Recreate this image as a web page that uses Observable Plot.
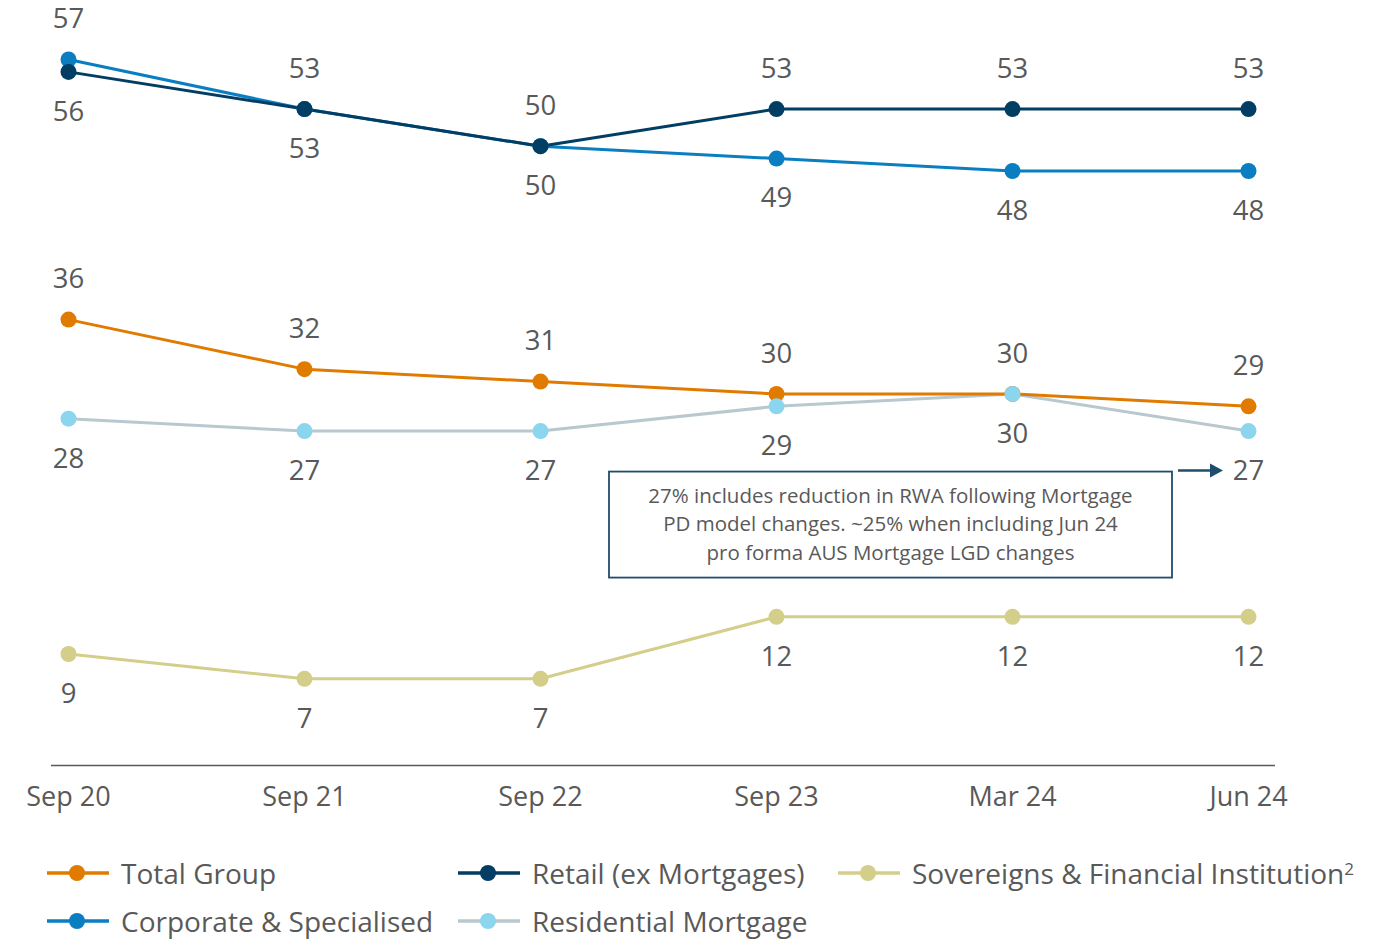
<!DOCTYPE html>
<html><head><meta charset="utf-8">
<script src="https://cdn.jsdelivr.net/npm/d3@7"></script>
<script src="https://cdn.jsdelivr.net/npm/@observablehq/plot@0.6"></script>
<style>
body{margin:0;background:#fff;font-family:"Open Sans",sans-serif;color:#595959;}
#chart svg{display:block;}
.legend{display:grid;grid-template-columns:411px 380px auto;row-gap:10px;padding-left:47px;margin-top:24px;font-size:28px;line-height:38px;}
.item{display:flex;align-items:center;white-space:nowrap;}
.item svg{margin-right:12px;flex:none;}
.item sup{font-size:17px;vertical-align:9px;line-height:0;}
</style></head><body>
<div id="chart"></div>
<div class="legend" id="legend"></div>
<script>
const periods = ["Sep 20","Sep 21","Sep 22","Sep 23","Mar 24","Jun 24"];
const totalGroup = [36,32,31,30,30,29];
const retail = [56,53,50,53,53,53];
const corporate = [57,53,50,49,48,48];
const residential = [28,27,27,29,30,27];
const sovereigns = [9,7,7,12,12,12];
const seriesNames = ["Total Group","Retail (ex Mortgages)","Sovereigns & Financial Institution","Corporate & Specialised","Residential Mortgage"];
const noteLines = ["27% includes reduction in RWA following Mortgage","PD model changes. ~25% when including Jun 24","pro forma AUS Mortgage LGD changes"];

const seriesValues = {
  "Total Group": totalGroup,
  "Retail (ex Mortgages)": retail,
  "Sovereigns & Financial Institution": sovereigns,
  "Corporate & Specialised": corporate,
  "Residential Mortgage": residential
};
const style = {
  "Total Group": {line:"#E07B00", dot:"#E07B00"},
  "Retail (ex Mortgages)": {line:"#023D63", dot:"#023D63"},
  "Sovereigns & Financial Institution": {line:"#D4CE8B", dot:"#D4CE8B"},
  "Corporate & Specialised": {line:"#0A7EC0", dot:"#0A7EC0"},
  "Residential Mortgage": {line:"#B8C8CE", dot:"#8BD5EE"}
};
// label side: true = above
const above = {
  "Total Group": () => true,
  "Retail (ex Mortgages)": (i) => i > 0,
  "Sovereigns & Financial Institution": () => false,
  "Corporate & Specialised": (i) => i === 0,
  "Residential Mortgage": () => false
};

const rows = [];
for (const s of seriesNames) {
  seriesValues[s].forEach((v, i) => rows.push({series: s, period: periods[i], value: v, above: above[s](i)}));
}
const lineOrder = ["Residential Mortgage","Sovereigns & Financial Institution","Total Group","Corporate & Specialised","Retail (ex Mortgages)"];
const dotOrder = ["Sovereigns & Financial Institution","Total Group","Residential Mortgage","Corporate & Specialised","Retail (ex Mortgages)"];

const marks = [
  Plot.ruleY([0], {stroke:"#595959", strokeWidth:1.6, insetLeft:-17, insetRight:-27}),
  Plot.axisX({tickSize:0, tickPadding:21, fontSize:27, anchor:"bottom"})
];
for (const s of lineOrder) {
  marks.push(Plot.line(rows.filter(d => d.series === s), {x:"period", y:"value", stroke: style[s].line, strokeWidth:3}));
}
for (const s of dotOrder) {
  marks.push(Plot.dot(rows.filter(d => d.series === s), {x:"period", y:"value", r:8, fill: style[s].dot, stroke:"none"}));
}
marks.push(Plot.text(rows.filter(d => d.above), {x:"period", y:"value", text:"value", dy:-40, fontSize:27.5, fill:"#595959", lineAnchor:"middle"}));
marks.push(Plot.text(rows.filter(d => !d.above), {x:"period", y:"value", text:"value", dy:40, fontSize:27.5, fill:"#595959", lineAnchor:"middle"}));

const plot = Plot.plot({
  width:1386, height:830,
  marginLeft:68, marginRight:138, marginTop:59, marginBottom:65,
  style:{fontFamily:"'Open Sans', sans-serif", color:"#595959", background:"#fff"},
  x:{type:"point", domain:periods, padding:0, label:null},
  y:{domain:[0,57], axis:null},
  marks
});
document.getElementById("chart").appendChild(plot);

// annotation anchored to the Residential Mortgage Jun 24 label
const sx = plot.scale("x"), sy = plot.scale("y");
const ax = sx.apply("Jun 24"), ay = sy.apply(residential[residential.length-1]) + 40;
const svg = d3.select(plot);
const g = svg.append("g");
g.append("line").attr("x1", ax-70).attr("x2", ax-36).attr("y1", ay).attr("y2", ay)
  .attr("stroke","#1E4D6E").attr("stroke-width",2.5);
g.append("path").attr("d", `M${ax-38},${ay-7}L${ax-25},${ay}L${ax-38},${ay+7}Z`).attr("fill","#1E4D6E");
const bx1 = ax-76, bx0 = bx1-563, by0 = ay+1, bh = 106;
g.append("rect").attr("x", bx0).attr("y", by0).attr("width", bx1-bx0).attr("height", bh)
  .attr("fill","#fff").attr("stroke","#1E4D6E").attr("stroke-width",1.8);
noteLines.forEach((t, i) => {
  g.append("text").attr("x", (bx0+bx1)/2).attr("y", by0 + 24 + i*28.5).attr("dy","0.35em")
    .attr("text-anchor","middle").attr("font-size",20.5).attr("fill","#595959").text(t);
});

// legend
const legendOrder = ["Total Group","Retail (ex Mortgages)","Sovereigns & Financial Institution","Corporate & Specialised","Residential Mortgage"];
const leg = document.getElementById("legend");
for (const s of legendOrder) {
  const div = document.createElement("div");
  div.className = "item";
  div.innerHTML = `<svg width="62" height="20"><line x1="0" x2="62" y1="10" y2="10" stroke="${style[s].line}" stroke-width="3.5"/><circle cx="30" cy="10" r="8" fill="${style[s].dot}"/></svg><span>${s}${s.startsWith("Sovereigns") ? "<sup>2</sup>" : ""}</span>`;
  leg.appendChild(div);
}
</script>
</body></html>
